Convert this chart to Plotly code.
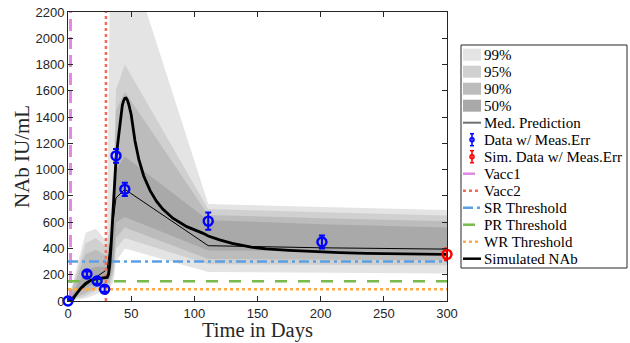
import plotly.graph_objects as go

# ---------------- data ----------------
band_t = [0, 14, 22, 29, 31, 33, 36, 38, 45, 111, 201, 300]
b99_hi = [0, 520, 550, 470, 470, 2300, 3500, 4000, 2715, 738, 715, 692]
b95_hi = [0, 440, 480, 420, 420, 560, 900, 1610, 1800, 700, 675, 650]
b90_hi = [0, 360, 390, 350, 350, 480, 800, 1450, 1593, 655, 630, 608]
b50_hi = [0, 230, 260, 260, 260, 330, 600, 1000, 1100, 615, 585, 560]
b50_lo = [0, 100, 140, 160, 160, 170, 300, 600, 640, 385, 378, 373]
b90_lo = [0, 60, 100, 130, 130, 140, 240, 480, 560, 320, 315, 310]
b95_lo = [0, 40, 80, 110, 110, 120, 200, 400, 480, 280, 276, 272]
b99_lo = [0, 20, 50, 90, 90, 95, 150, 300, 400, 220, 215, 210]

med_t = [0, 14, 22, 29, 31, 38, 45, 111, 201, 300]
med_v = [0, 120, 180, 225, 240, 785, 850, 421, 405, 395]

data_t = [0, 15, 23, 29, 38, 45, 111, 201]
data_v = [0, 205, 152, 90, 1105, 850, 608, 449]
data_err = [15, 20, 20, 20, 53, 50, 65, 50]

simdata_t = [300]
simdata_v = [355]
simdata_err = [45]

sim_t = [0, 3, 6, 10, 14, 18, 22, 26, 30, 31, 32, 33, 34, 35, 36, 37, 38, 39, 40, 41,
         42, 43, 44, 45, 46, 47, 48, 50, 53, 56, 60, 65, 70, 75, 83, 94, 107, 111,
         120, 130, 145, 157, 175, 196, 215, 236, 260, 280, 300]
sim_v = [0, 0, 45, 95, 135, 158, 168, 174, 178, 180, 200, 270, 400, 560, 769, 960,
         1080, 1170, 1250, 1340, 1420, 1490, 1525, 1543, 1545, 1530, 1500, 1420, 1220,
         1080, 950, 840, 760, 700, 630, 566, 515, 495, 465, 439, 410, 396, 385, 375,
         368, 363, 360, 357, 355]

vacc1_day = 2
vacc2_day = 30
sr_level = 300
pr_level = 150
wr_level = 90
x_range = [0, 300]
y_range = [0, 2200]
x_ticks = [0, 50, 100, 150, 200, 250, 300]
y_ticks = list(range(0, 2201, 200))

x_title = "Time in Days"
y_title = "NAb IU/mL"
chart_title = "Within Strong Response Range"
legend_labels = ["99%", "95%", "90%", "50%", "Med. Prediction", "Data w/ Meas.Err",
                 "Sim. Data w/ Meas.Err", "Vacc1", "Vacc2", "SR Threshold",
                 "PR Threshold", "WR Threshold", "Simulated NAb"]

# ---------------- styles ----------------
serif = "Liberation Serif"
sans = "Liberation Sans"
band_colors = ["#e4e4e4", "#d0d0d0", "#bcbcbc", "#a9a9a9"]
c_data = "#0000ff"
c_sim = "#ff0000"
st_vacc1 = dict(color="#e08ae0", width=3, dash="12px,6px")
st_vacc2 = dict(color="#f26b55", width=2.5, dash="3px,3px")
st_sr = dict(color="#5aa0e0", width=2.5, dash="10px,4px,3px,4px")
st_pr = dict(color="#77bb4a", width=2.5, dash="12px,11px")
st_wr = dict(color="#ffaa44", width=2.5, dash="3px,3px")
st_sim = dict(color="black", width=2.8)
st_med = dict(color="black", width=1)

W, H = 630, 343
ML, MR, MT, MB = 68, 183, 12, 42
PW, PH = W - ML - MR, H - MT - MB

fig = go.Figure()

def band(hi, lo, color):
    fig.add_trace(go.Scatter(
        x=band_t + band_t[::-1], y=hi + lo[::-1], fill="toself",
        fillcolor=color, line=dict(width=0, color=color), mode="lines",
        hoverinfo="skip", showlegend=False))

band(b99_hi, b99_lo, band_colors[0])
band(b95_hi, b95_lo, band_colors[1])
band(b90_hi, b90_lo, band_colors[2])
band(b50_hi, b50_lo, band_colors[3])

fig.add_trace(go.Scatter(x=med_t, y=med_v, mode="lines", line=st_med, showlegend=False))

fig.add_trace(go.Scatter(x=[vacc1_day, vacc1_day], y=y_range, mode="lines", line=st_vacc1, showlegend=False))
fig.add_trace(go.Scatter(x=[vacc2_day, vacc2_day], y=y_range, mode="lines", line=st_vacc2, showlegend=False))
fig.add_trace(go.Scatter(x=x_range, y=[sr_level, sr_level], mode="lines", line=st_sr, showlegend=False))
fig.add_trace(go.Scatter(x=x_range, y=[pr_level, pr_level], mode="lines", line=st_pr, showlegend=False))
fig.add_trace(go.Scatter(x=x_range, y=[wr_level, wr_level], mode="lines", line=st_wr, showlegend=False))
fig.add_trace(go.Scatter(x=sim_t, y=sim_v, mode="lines", line=st_sim, showlegend=False))

fig.add_trace(go.Scatter(
    x=data_t, y=data_v, mode="markers", showlegend=False,
    marker=dict(symbol="circle-open", size=9, color=c_data, line=dict(width=2.4, color=c_data)),
    error_y=dict(type="data", array=data_err, color=c_data, thickness=2, width=3),
    cliponaxis=False))
fig.add_trace(go.Scatter(
    x=simdata_t, y=simdata_v, mode="markers", showlegend=False,
    marker=dict(symbol="circle-open", size=9, color=c_sim, line=dict(width=2.4, color=c_sim)),
    error_y=dict(type="data", array=simdata_err, color=c_sim, thickness=2, width=3),
    cliponaxis=False))

axis_common = dict(showline=True, linecolor="#262626", linewidth=1, mirror="ticks",
                   ticks="inside", ticklen=5, tickcolor="#262626", showgrid=False,
                   zeroline=False, tickfont=dict(family=sans, size=13, color="#262626"))

fig.update_xaxes(range=x_range, tickvals=x_ticks, **axis_common)
fig.update_yaxes(range=y_range, tickvals=y_ticks,
                 title=dict(text=y_title, font=dict(family=serif, size=21, color="#262626"),
                            standoff=0), **axis_common)

def px(x):
    return (x - ML) / PW

def py(y):
    return (H - MB - y) / PH

# x-axis title placed as text just under the tick labels
fig.add_annotation(text=x_title, xref="paper", yref="paper", x=0.5, y=py(330),
                   yanchor="middle", showarrow=False,
                   font=dict(family=serif, size=20.5, color="#262626"))

# title, mostly above the top edge as in the reference
fig.add_annotation(text=chart_title, xref="paper", yref="paper",
                   x=0.5, y=1.06, yanchor="bottom", showarrow=False,
                   font=dict(family=serif, size=20, color="#262626"))

# ---------------- custom legend ----------------
shapes = []
lx0, lx1, ly0, ly1 = 461, 627, 45, 268
shapes.append(dict(type="rect", xref="paper", yref="paper", x0=px(lx0), x1=px(lx1),
                   y0=py(ly1), y1=py(ly0), line=dict(color="#262626", width=1),
                   fillcolor="white", layer="above"))

row0, dy = 54.7, 17.0
sx0, sx1 = 463, 481
for i, lab in enumerate(legend_labels):
    cy = row0 + i * dy
    if i < 4:
        shapes.append(dict(type="rect", xref="paper", yref="paper", x0=px(sx0), x1=px(sx1),
                           y0=py(cy + 6), y1=py(cy - 6), line=dict(width=0),
                           fillcolor=band_colors[i], layer="above"))
    elif lab == "Med. Prediction":
        shapes.append(dict(type="line", xref="paper", yref="paper", x0=px(sx0), x1=px(sx1),
                           y0=py(cy), y1=py(cy), line=dict(color="#707070", width=2), layer="above"))
    elif lab in ("Data w/ Meas.Err", "Sim. Data w/ Meas.Err"):
        col = c_data if lab.startswith("Data") else c_sim
        cx = 472
        shapes.append(dict(type="line", xref="paper", yref="paper", x0=px(cx), x1=px(cx),
                           y0=py(cy + 6), y1=py(cy - 6), line=dict(color=col, width=1.5), layer="above"))
        for yy in (cy - 6, cy + 6):
            shapes.append(dict(type="line", xref="paper", yref="paper", x0=px(cx - 2), x1=px(cx + 2),
                               y0=py(yy), y1=py(yy), line=dict(color=col, width=1.5), layer="above"))
        shapes.append(dict(type="circle", xref="paper", yref="paper", x0=px(cx - 2), x1=px(cx + 2),
                           y0=py(cy + 2), y1=py(cy - 2), line=dict(color=col, width=1.5), layer="above"))
    else:
        st = {"Vacc1": st_vacc1, "Vacc2": st_vacc2, "SR Threshold": st_sr,
              "PR Threshold": st_pr, "WR Threshold": st_wr, "Simulated NAb": st_sim}[lab]
        shapes.append(dict(type="line", xref="paper", yref="paper", x0=px(sx0), x1=px(sx1),
                           y0=py(cy), y1=py(cy),
                           line=dict(color=st["color"], width=min(st["width"], 2.5),
                                     dash=st.get("dash", "solid")), layer="above"))
    fig.add_annotation(text=lab, xref="paper", yref="paper", x=px(482), y=py(cy),
                       xanchor="left", yanchor="middle", showarrow=False,
                       font=dict(family=serif, size=15, color="black"))

fig.update_layout(
    width=W, height=H, plot_bgcolor="white", paper_bgcolor="white",
    margin=dict(l=ML, r=MR, t=MT, b=MB, autoexpand=False),
    showlegend=False, shapes=shapes,
)

fig.write_html("out.html")
